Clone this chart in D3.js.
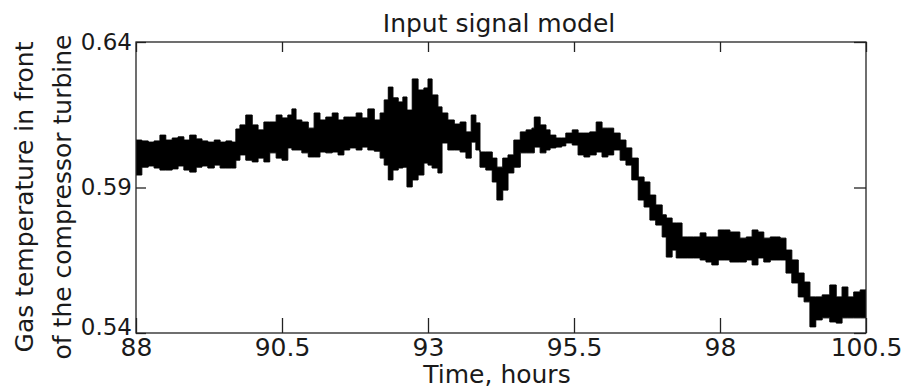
<!DOCTYPE html>
<html>
<head>
<meta charset="utf-8">
<script src="https://cdn.jsdelivr.net/npm/d3@7"></script>
<style>
  body { margin: 0; background: #fff; }
  svg text { font-family: "DejaVu Sans", sans-serif; fill: #1a1a1a; }
</style>
</head>
<body>
<svg id="chart" width="908" height="390"></svg>
<script>
// time axis (hours) and the upper / lower edge of the noisy signal band
var hours = [88.00, 88.10, 88.21, 88.31, 88.41, 88.51, 88.62, 88.72, 88.82, 88.92,
	89.03, 89.13, 89.23, 89.34, 89.44, 89.54, 89.64, 89.71, 89.78, 89.88,
	89.99, 90.09, 90.19, 90.29, 90.40, 90.50, 90.60, 90.67, 90.74, 90.84,
	90.95, 91.05, 91.15, 91.25, 91.36, 91.46, 91.56, 91.66, 91.77, 91.87,
	91.97, 92.08, 92.18, 92.25, 92.32, 92.40, 92.49, 92.57, 92.64, 92.73,
	92.83, 92.93, 93.00, 93.07, 93.17, 93.24, 93.34, 93.45, 93.55, 93.65,
	93.74, 93.82, 93.89, 93.99, 94.10, 94.18, 94.28, 94.37, 94.47, 94.58,
	94.68, 94.78, 94.82, 94.92, 95.02, 95.09, 95.19, 95.29, 95.36, 95.47,
	95.57, 95.67, 95.77, 95.88, 95.98, 96.08, 96.18, 96.29, 96.39, 96.49,
	96.60, 96.70, 96.80, 96.90, 97.01, 97.08, 97.18, 97.25, 97.35, 97.45,
	97.55, 97.66, 97.76, 97.86, 97.97, 98.07, 98.17, 98.34, 98.45, 98.55,
	98.65, 98.75, 98.86, 98.96, 99.03, 99.13, 99.23, 99.34, 99.44, 99.54,
	99.64, 99.75, 99.88, 99.99, 100.09, 100.19, 100.29, 100.40, 100.50];

var signalHigh = [0.6063, 0.6060, 0.6056, 0.6060, 0.6080, 0.6063, 0.6070, 0.6074, 0.6063, 0.6080,
	0.6067, 0.6060, 0.6056, 0.6063, 0.6056, 0.6060, 0.6056, 0.6101, 0.6115, 0.6149,
	0.6115, 0.6098, 0.6125, 0.6125, 0.6149, 0.6139, 0.6149, 0.6170, 0.6132, 0.6125,
	0.6104, 0.6156, 0.6132, 0.6142, 0.6156, 0.6132, 0.6142, 0.6142, 0.6156, 0.6139,
	0.6170, 0.6132, 0.6156, 0.6201, 0.6245, 0.6208, 0.6194, 0.6211, 0.6166, 0.6273,
	0.6235, 0.6242, 0.6273, 0.6218, 0.6177, 0.6156, 0.6132, 0.6118, 0.6125, 0.6091,
	0.6149, 0.6122, 0.6022, 0.6022, 0.6001, 0.5970, 0.6001, 0.6012, 0.6063, 0.6091,
	0.6098, 0.6104, 0.6142, 0.6115, 0.6098, 0.6080, 0.6070, 0.6070, 0.6087, 0.6098,
	0.6087, 0.6087, 0.6091, 0.6125, 0.6104, 0.6104, 0.6087, 0.6063, 0.6036, 0.6001,
	0.5936, 0.5919, 0.5874, 0.5840, 0.5806, 0.5795, 0.5778, 0.5778, 0.5730, 0.5730,
	0.5730, 0.5744, 0.5730, 0.5730, 0.5754, 0.5754, 0.5747, 0.5726, 0.5730, 0.5754,
	0.5747, 0.5726, 0.5730, 0.5730, 0.5726, 0.5685, 0.5651, 0.5606, 0.5575, 0.5524,
	0.5524, 0.5531, 0.5565, 0.5524, 0.5558, 0.5524, 0.5541, 0.5548, 0.5548];

var signalLow = [0.5943, 0.5970, 0.5974, 0.5967, 0.5960, 0.5960, 0.5964, 0.5974, 0.5960, 0.5953,
	0.5970, 0.5974, 0.5967, 0.5977, 0.5967, 0.5967, 0.5967, 0.5994, 0.6012, 0.5994,
	0.5988, 0.6001, 0.5988, 0.6019, 0.6001, 0.5994, 0.6036, 0.6029, 0.6029, 0.6019,
	0.6005, 0.6005, 0.6022, 0.6019, 0.6022, 0.6012, 0.6029, 0.6036, 0.6029, 0.6039,
	0.6029, 0.6025, 0.6001, 0.5977, 0.5926, 0.5960, 0.5967, 0.5970, 0.5902, 0.5926,
	0.5943, 0.5984, 0.5977, 0.5967, 0.5950, 0.6053, 0.6029, 0.6029, 0.6022, 0.6001,
	0.6056, 0.6029, 0.5970, 0.5960, 0.5919, 0.5857, 0.5891, 0.5950, 0.5970, 0.6019,
	0.6019, 0.6019, 0.6039, 0.6019, 0.6029, 0.6036, 0.6039, 0.6043, 0.6053, 0.6046,
	0.6012, 0.6005, 0.6012, 0.6022, 0.6005, 0.6012, 0.6029, 0.5994, 0.5977, 0.5926,
	0.5857, 0.5833, 0.5788, 0.5771, 0.5730, 0.5661, 0.5685, 0.5658, 0.5658, 0.5658,
	0.5658, 0.5651, 0.5644, 0.5634, 0.5651, 0.5651, 0.5644, 0.5644, 0.5651, 0.5634,
	0.5658, 0.5644, 0.5651, 0.5651, 0.5651, 0.5606, 0.5572, 0.5524, 0.5507, 0.5421,
	0.5445, 0.5452, 0.5438, 0.5434, 0.5452, 0.5452, 0.5452, 0.5452, 0.5452];

var xTicks = [88, 90.5, 93, 95.5, 98, 100.5];
var yTicks = [0.54, 0.59, 0.64];

var plotLeft = 136, plotRight = 866, plotTop = 42, plotBottom = 333;

var svg = d3.select("#chart");

var x = d3.scaleLinear().domain([88, 100.5]).range([plotLeft, plotRight]);
var y = d3.scaleLinear().domain([0.54, 0.64]).range([plotBottom, plotTop]);

svg.append("clipPath").attr("id", "plotclip")
	.append("rect")
	.attr("x", plotLeft).attr("y", plotTop)
	.attr("width", plotRight - plotLeft).attr("height", plotBottom - plotTop);

var rows = hours.map(function (h, i) {
	return { h: h, hi: signalHigh[i], lo: signalLow[i] };
});

var band = d3.area()
	.curve(d3.curveStepAfter)
	.x(function (d) { return x(d.h); })
	.y0(function (d) { return y(d.lo); })
	.y1(function (d) { return y(d.hi); });

svg.append("path")
	.datum(rows)
	.attr("clip-path", "url(#plotclip)")
	.attr("d", band)
	.style("fill", "#000")
	.style("stroke", "#000")
	.style("stroke-width", 1);

// axes, ticks pointing inward
var xAxis = svg.append("g")
	.attr("transform", "translate(0," + plotBottom + ")")
	.call(d3.axisBottom(x).tickValues(xTicks).tickSizeInner(-15).tickSizeOuter(0).tickPadding(5)
		.tickFormat(d3.format("")));
var yAxis = svg.append("g")
	.attr("transform", "translate(" + plotLeft + ",0)")
	.call(d3.axisLeft(y).tickValues(yTicks).tickSizeInner(-10).tickSizeOuter(0).tickPadding(4)
		.tickFormat(d3.format(".2f")));
var xTop = svg.append("g")
	.attr("transform", "translate(0," + plotTop + ")")
	.call(d3.axisTop(x).tickValues(xTicks).tickSizeInner(-10).tickSizeOuter(0).tickFormat(""));
var yRight = svg.append("g")
	.attr("transform", "translate(" + plotRight + ",0)")
	.call(d3.axisRight(y).tickValues(yTicks).tickSizeInner(-12).tickSizeOuter(0).tickFormat(""));

[xAxis, yAxis, xTop, yRight].forEach(function (g) {
	g.select(".domain").remove();
	g.selectAll(".tick line").style("stroke", "#222").style("stroke-width", 1.3);
	g.selectAll("text").style("fill", "#1a1a1a").attr("font-family", null).attr("font-size", null);
});
xAxis.selectAll("text").style("font-size", "25px");
yAxis.selectAll("text").style("font-size", "23px");
// lowest y label sits a bit above its tick, as in the figure
yAxis.selectAll(".tick text").filter(function (d) { return d === 0.54; }).attr("dy", "0.05em");

svg.append("rect")
	.attr("x", plotLeft).attr("y", plotTop)
	.attr("width", plotRight - plotLeft).attr("height", plotBottom - plotTop)
	.style("fill", "none")
	.style("stroke", "#222")
	.style("stroke-width", 1.3);

svg.append("text")
	.attr("x", (plotLeft + plotRight) / 2 - 2)
	.attr("y", 32)
	.attr("text-anchor", "middle")
	.style("font-size", "25px")
	.text("Input signal model");

svg.append("text")
	.attr("x", (plotLeft + plotRight) / 2 - 4)
	.attr("y", 383)
	.attr("text-anchor", "middle")
	.style("font-size", "25px")
	.text("Time, hours");

svg.append("text")
	.attr("transform", "translate(33,197) rotate(-90)")
	.attr("text-anchor", "middle")
	.style("font-size", "25px")
	.text("Gas temperature in front");
svg.append("text")
	.attr("transform", "translate(71,197) rotate(-90)")
	.attr("text-anchor", "middle")
	.style("font-size", "25px")
	.text("of the compressor turbine");
</script>
</body>
</html>
